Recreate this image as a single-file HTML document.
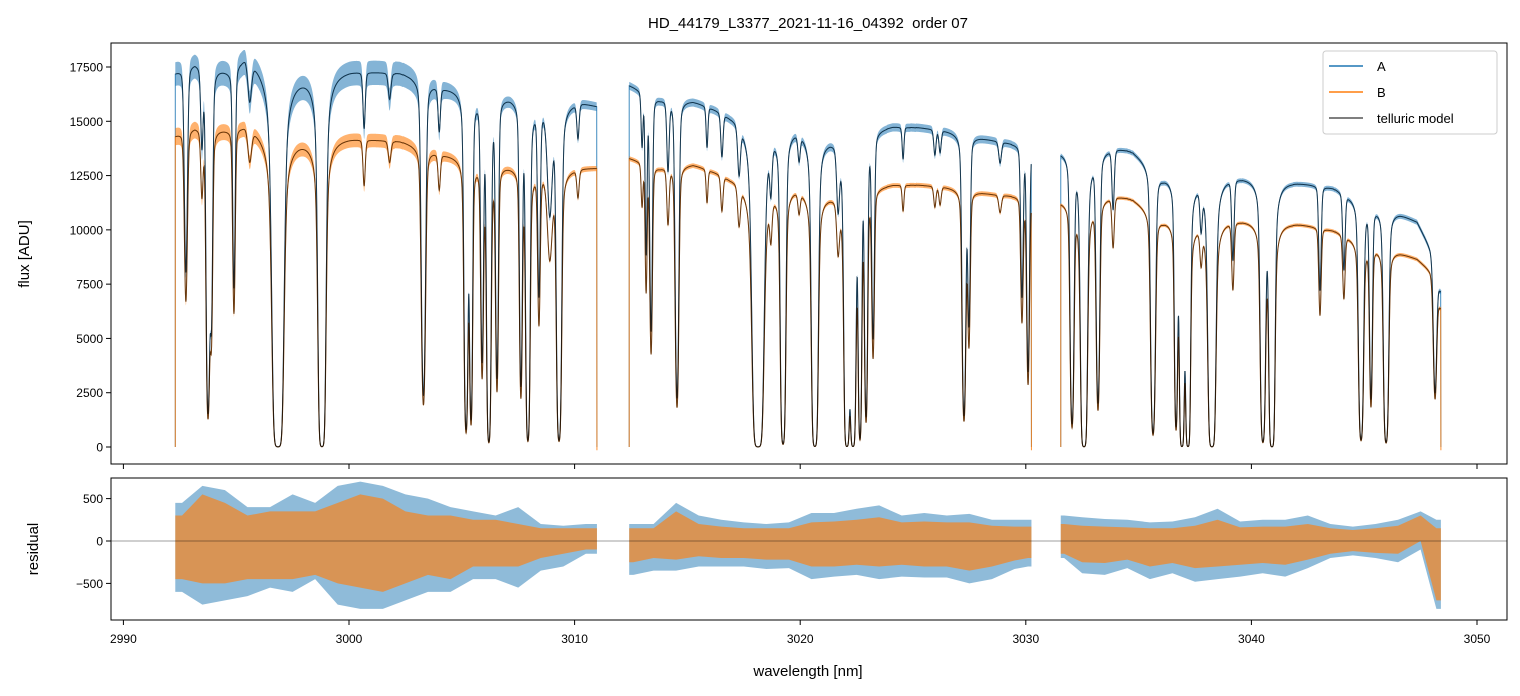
<!DOCTYPE html>
<html><head><meta charset="utf-8"><style>
html,body{margin:0;padding:0;background:#fff}
svg{display:block;font-family:"Liberation Sans","DejaVu Sans",sans-serif}
</style></head><body>
<svg id="chart" width="1520" height="696" viewBox="0 0 1520 696" xmlns="http://www.w3.org/2000/svg">
<defs>
<clipPath id="clipTop"><rect x="111" y="43" width="1396" height="421"/></clipPath>
<clipPath id="clipBot"><rect x="111" y="478" width="1396" height="142"/></clipPath>
</defs>
<text x="808" y="28" font-size="15" text-anchor="middle" fill="#000" xml:space="preserve">HD_44179_L3377_2021-11-16_04392  order 07</text>
<g id="topPlot" clip-path="url(#clipTop)"></g>
<g id="botPlot" clip-path="url(#clipBot)"></g>
<g id="axes"></g>
<rect x="111" y="43" width="1396" height="421" fill="none" stroke="#000" stroke-width="1"/>
<rect x="111" y="478" width="1396" height="142" fill="none" stroke="#000" stroke-width="1"/>
<text transform="translate(29,254) rotate(-90)" font-size="15" text-anchor="middle">flux [ADU]</text>
<text transform="translate(38,549) rotate(-90)" font-size="15" text-anchor="middle">residual</text>
<text x="808" y="676" font-size="15" text-anchor="middle">wavelength [nm]</text>
<g>
<rect x="1323" y="51" width="174" height="83" rx="3" fill="#fff" fill-opacity="0.8" stroke="#ccc"/>
<line x1="1329" y1="66" x2="1363" y2="66" stroke="#1f77b4" stroke-width="1.5"/>
<text x="1377" y="71" font-size="13">A</text>
<line x1="1329" y1="92" x2="1363" y2="92" stroke="#ff7f0e" stroke-width="1.5"/>
<text x="1377" y="97" font-size="13">B</text>
<line x1="1329" y1="118" x2="1363" y2="118" stroke="#555" stroke-width="1.5"/>
<text x="1377" y="123" font-size="13">telluric model</text>
</g>
</svg>
<script>
// ---- data ----
const segStart = [2992.30, 3012.42, 3031.55];
const segEnd = [3010.99, 3030.25, 3048.40];
const contLam = [2992.29,2993.17,2994.73,2995.39,2997.38,2998.27,3000.04,3002.26,3004.03,3007.14,3008.69,3010.24,3010.99,
 3012.41,3013.79,3015.25,3016.89,3019.86,3021.19,3024.11,3026.33,3028.55,3029.61,3030.28,
 3031.56,3034.04,3034.75,3036.08,3039.18,3042.15,3043.62,3044.37,3046.59,3047.34,3047.92,3048.36];
const contA = [17270,17800,17400,18150,17300,17300,17400,17250,16600,16200,15600,15900,15700,
 16670,16070,15990,15430,14920,14500,14830,14600,14140,13950,13900,
 13680,13820,13680,12620,12560,12200,11970,11600,10780,10400,9210,7300];
const contB = [14370,14830,14700,14970,14400,14300,14280,14100,13540,12990,12620,12850,12850,
 13310,12900,13060,12530,12160,11840,12130,12000,11650,11560,11500,
 11380,11600,11470,10600,10550,10300,10010,9700,8980,8680,8150,6500];
const lineLam = [2992.77,2993.48,2993.75,2993.90,2994.90,2995.60,2996.85,2998.80,3000.67,3001.80,3003.30,3004.00,3005.19,3005.41,3005.90,3006.20,3006.56,3007.62,3007.93,3008.42,3008.90,3009.31,3010.15,
 3012.99,3013.17,3013.39,3014.14,3014.54,3015.87,3016.53,3017.29,3018.13,3018.70,3019.24,3019.95,3020.65,3021.68,3022.07,3022.34,3022.65,3022.92,3023.23,3024.56,3025.97,3026.20,3027.26,3027.48,3028.86,3029.83,3030.10,
 3032.05,3032.58,3033.20,3033.87,3035.64,3036.66,3036.92,3037.19,3037.77,3038.25,3039.18,3040.51,3040.91,3043.04,3044.10,3044.86,3045.30,3045.97,3048.14];
const lineT = [0.46,0.8,0.09,0.35,0.42,0.9,0.0005,0.001,0.85,0.93,0.14,0.88,0.05,0.08,0.25,0.015,0.2,0.18,0.02,0.45,0.7,0.02,0.9,
 0.85,0.55,0.33,0.8,0.14,0.88,0.87,0.85,0.0005,0.85,0.01,0.92,0.002,0.8,0.002,0.002,0.03,0.1,0.35,0.9,0.92,0.93,0.1,0.4,0.93,0.5,0.25,
 0.08,0.001,0.15,0.8,0.05,0.08,0.002,0.002,0.85,0.001,0.7,0.02,0.001,0.6,0.7,0.03,0.2,0.02,0.3];
const lineSig = [0.06,0.05,0.06,0.05,0.05,0.08,0.13,0.09,0.05,0.06,0.07,0.05,0.06,0.05,0.05,0.06,0.05,0.05,0.06,0.05,0.1,0.07,0.05,
 0.04,0.04,0.05,0.05,0.06,0.04,0.05,0.06,0.13,0.05,0.07,0.05,0.08,0.06,0.07,0.07,0.05,0.05,0.05,0.04,0.05,0.05,0.06,0.05,0.06,0.05,0.05,
 0.06,0.08,0.06,0.05,0.07,0.05,0.06,0.06,0.05,0.09,0.05,0.07,0.07,0.05,0.05,0.07,0.05,0.07,0.06];
const noiseLam = [2992.5,2996,3003,3005,3011,3012.5,3020,3030,3031.5,3040,3048.4];
const noiseA = [550,600,550,300,200,180,200,180,120,110,120];
const noiseB = [400,350,300,200,120,110,110,110,80,80,90];
const resLam = [2992.6,2993.5,2994.5,2995.5,2996.5,2997.5,2998.5,2999.5,3000.5,3001.5,3002.5,3003.5,3004.5,3005.5,3006.5,3007.5,3008.5,3009.5,3010.5,
 3012.6,3013.5,3014.5,3015.5,3016.5,3017.5,3018.5,3019.5,3020.5,3021.5,3022.5,3023.5,3024.5,3025.5,3026.5,3027.5,3028.5,3029.5,3030.1,
 3031.7,3032.5,3033.5,3034.5,3035.5,3036.5,3037.5,3038.5,3039.5,3040.5,3041.5,3042.5,3043.5,3044.5,3045.5,3046.5,3047.5,3048.2];
const resAHi = [450,650,600,400,400,550,450,650,700,650,550,500,400,350,300,400,200,180,200,
 200,200,450,300,250,220,200,220,330,330,380,420,300,330,300,320,250,250,250,
 300,280,260,250,220,230,280,380,230,250,250,300,200,170,200,250,350,250];
const resALo = [-600,-750,-700,-650,-550,-600,-450,-750,-800,-800,-700,-600,-600,-450,-450,-550,-350,-300,-150,
 -400,-350,-350,-300,-300,-300,-330,-320,-450,-420,-400,-450,-420,-430,-430,-500,-450,-330,-300,
 -200,-380,-400,-320,-450,-380,-480,-450,-420,-380,-420,-320,-200,-170,-200,-250,-100,-800];
const resBHi = [300,550,450,300,350,350,350,450,550,500,350,300,300,250,250,200,150,150,150,
 150,150,350,200,170,150,150,150,220,230,250,280,220,230,220,220,180,170,170,
 200,180,170,160,150,150,180,250,160,170,170,200,150,130,150,180,300,150];
const resBLo = [-450,-500,-500,-450,-450,-450,-400,-500,-550,-600,-500,-400,-450,-300,-300,-300,-200,-150,-100,
 -250,-200,-220,-180,-200,-200,-220,-220,-300,-300,-280,-300,-280,-300,-300,-350,-300,-230,-200,
 -150,-250,-260,-220,-300,-260,-320,-300,-280,-260,-280,-220,-150,-120,-140,-150,0,-700];
const xTicks = [2990,3000,3010,3020,3030,3040,3050];
const yTicks = [0,2500,5000,7500,10000,12500,15000,17500];
const rTicks = [500,0,-500];

// ---- scales ----
const X = l => 349 + (l - 3000) * 22.56;
const Y = f => 447 - f * 0.021714;
const R = r => 541 - r * 0.0848;
const NS = 'http://www.w3.org/2000/svg';
function mk(tag, attrs, parent){ const e=document.createElementNS(NS,tag); for(const k in attrs) e.setAttribute(k,attrs[k]); parent.appendChild(e); return e; }
function interp(xs, ys, x){
  if (x<=xs[0]) return ys[0];
  for (let i=1;i<xs.length;i++) if (x<=xs[i]) { const t=(x-xs[i-1])/(xs[i]-xs[i-1]); return ys[i-1]+t*(ys[i]-ys[i-1]); }
  return ys[ys.length-1];
}
function trans(l){
  let tau=0;
  for (let i=0;i<lineLam.length;i++){ const u=(l-lineLam[i])/lineSig[i]; if (Math.abs(u)>40) continue;
    const t0=-Math.log(Math.max(lineT[i],0.0003)); tau+=t0*(0.75*Math.exp(-u*u/2)+0.25/(1+u*u)); }
  return Math.exp(-tau);
}
const topG = document.getElementById('topPlot');
const botG = document.getElementById('botPlot');
const axesG = document.getElementById('axes');

for (let s=0;s<segStart.length;s++){
  const step=0.01, pts=[];
  for (let l=segStart[s]; l<=segEnd[s]; l+=step){
    const t=trans(l); pts.push({l, t, a:interp(contLam,contA,l)*t, b:interp(contLam,contB,l)*t, na:interp(noiseLam,noiseA,l)*t, nb:interp(noiseLam,noiseB,l)*t});
  }
  const line = (key, off) => pts.map((p,i)=>(i?'L':'M')+X(p.l).toFixed(2)+' '+Y(p[key]+off).toFixed(2)).join('');
  const band = (key,nk) => { let d=pts.map((p,i)=>(i?'L':'M')+X(p.l).toFixed(2)+' '+Y(p[key]+p[nk]).toFixed(2)).join('');
    for (let i=pts.length-1;i>=0;i--) d+='L'+X(pts[i].l).toFixed(2)+' '+Y(pts[i][key]-pts[i][nk]).toFixed(2); return d+'Z'; };
  const x0=X(segStart[s]).toFixed(2), x1=X(segEnd[s]).toFixed(2);
  const bandA = mk('path',{d:band('a','na'),fill:'#1f77b4','fill-opacity':0.55},topG);
  
  
  const lineA = mk('path',{d:'M'+x0+' '+Y(0)+line('a',0).replace(/^M/,'L')+'L'+x1+' '+Y(0),fill:'none',stroke:'#1f77b4','stroke-width':1,'stroke-opacity':0.85},topG);
  
  
  const bandB = mk('path',{d:band('b','nb'),fill:'#ff7f0e','fill-opacity':0.6},topG);
  
  
  const lineB = mk('path',{d:'M'+x0+' '+Y(0)+line('b',0).replace(/^M/,'L')+'L'+x1+' '+Y(-150),fill:'none',stroke:'#ff7f0e','stroke-width':1,'stroke-opacity':0.85},topG);
  
  
  const mA = mk('path',{d:line('a',0),fill:'none',stroke:'#000','stroke-width':1,'stroke-opacity':0.6},topG);
  
  
  const mB = mk('path',{d:line('b',0),fill:'none',stroke:'#000','stroke-width':1,'stroke-opacity':0.6},topG);
  
  

  const idx=[]; for (let i=0;i<resLam.length;i++) if (resLam[i]>=segStart[s]-0.3 && resLam[i]<=segEnd[s]+0.3) idx.push(i);
  const rb = (hi,lo) => { const xs=[segStart[s], ...idx.map(i=>resLam[i]), segEnd[s]];
    const his=[hi[idx[0]], ...idx.map(i=>hi[i]), hi[idx[idx.length-1]]];
    const los=[lo[idx[0]], ...idx.map(i=>lo[i]), lo[idx[idx.length-1]]];
    let d=xs.map((l,i)=>(i?'L':'M')+X(l).toFixed(2)+' '+R(his[i]).toFixed(2)).join('');
    for (let i=xs.length-1;i>=0;i--) d+='L'+X(xs[i]).toFixed(2)+' '+R(los[i]).toFixed(2); return d+'Z'; };
  const ra = mk('path',{d:rb(resAHi,resALo),fill:'#1f77b4','fill-opacity':0.5},botG);
  
  
  const rbb = mk('path',{d:rb(resBHi,resBLo),fill:'#ff7f0e','fill-opacity':0.65},botG);
  
  
}
const zl = mk('line',{x1:111,x2:1507,y1:R(0),y2:R(0),stroke:'#000','stroke-width':0.8,'stroke-opacity':0.5},botG);



xTicks.forEach(v=>{
  const x=X(v);
  const t1=mk('line',{x1:x,x2:x,y1:464,y2:469,stroke:'#000'},axesG);
  
  
  const t2=mk('line',{x1:x,x2:x,y1:620,y2:625,stroke:'#000'},axesG);
  
  
  const lb=mk('text',{x:x,y:643,'font-size':12,'text-anchor':'middle'},axesG); lb.textContent=v;
  
  
});
yTicks.forEach(v=>{
  const y=Y(v);
  const t=mk('line',{x1:106,x2:111,y1:y,y2:y,stroke:'#000'},axesG);
  
  
  const lb=mk('text',{x:103,y:y+4.5,'font-size':12,'text-anchor':'end'},axesG); lb.textContent=v;
  
  
});
rTicks.forEach(v=>{
  const y=R(v);
  const t=mk('line',{x1:106,x2:111,y1:y,y2:y,stroke:'#000'},axesG);
  
  
  const lb=mk('text',{x:103,y:y+4.5,'font-size':12,'text-anchor':'end'},axesG); lb.textContent=(v<0?'\u2212'+(-v):v);
  
  
});
</script>
</body></html>
